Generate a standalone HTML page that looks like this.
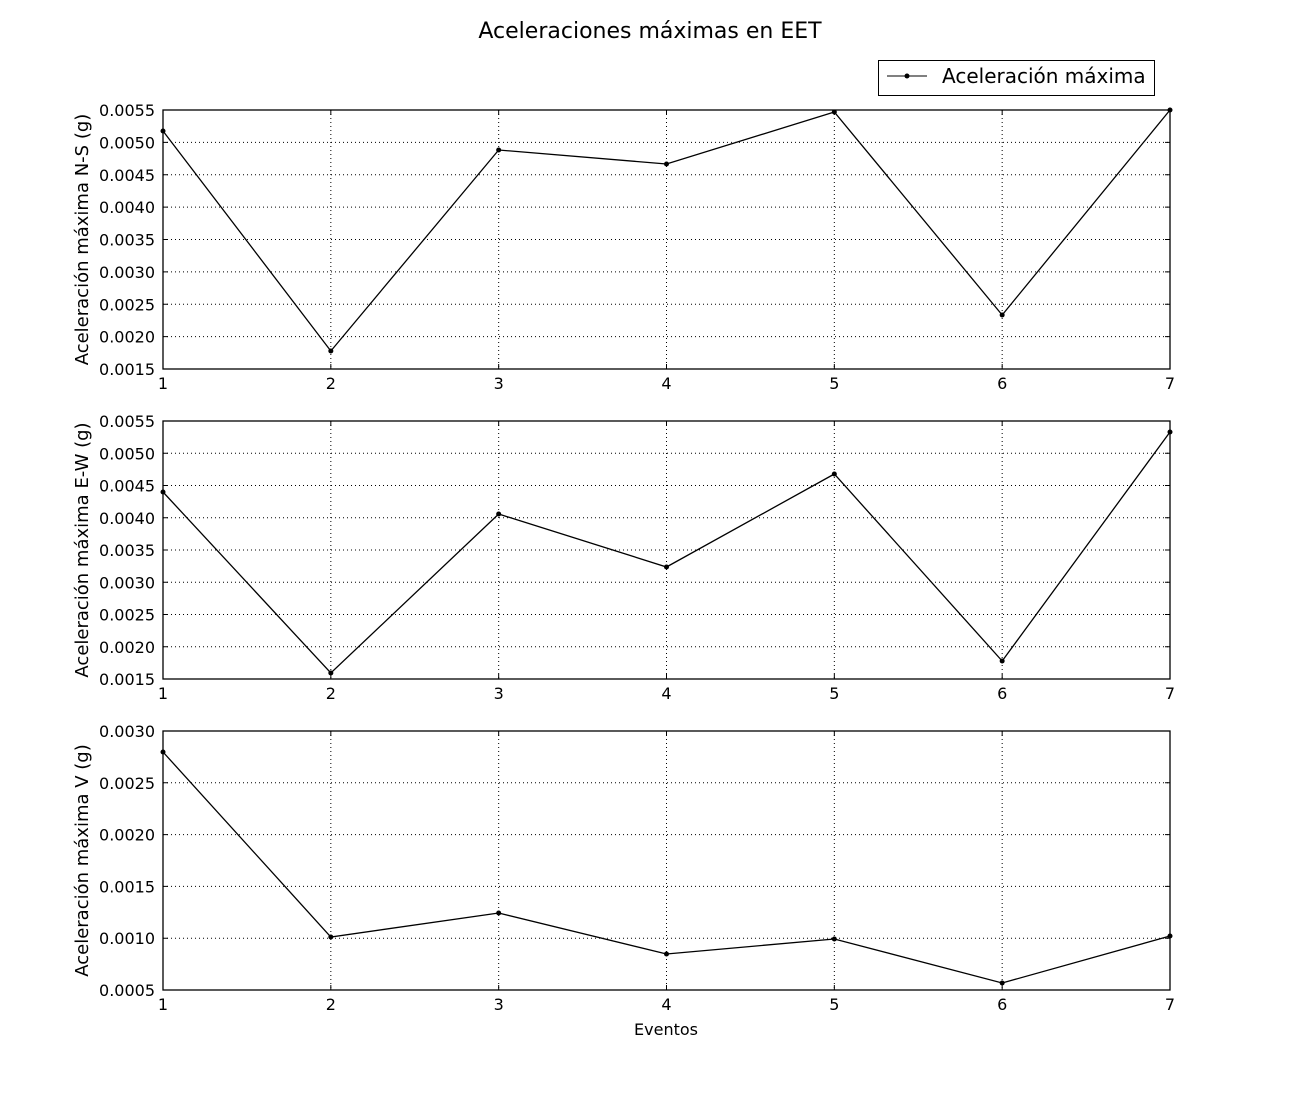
<!DOCTYPE html>
<html><head><meta charset="utf-8"><style>body{margin:0;background:#fff}svg{display:block}</style></head><body>
<svg width="1300" height="1100" xmlns="http://www.w3.org/2000/svg" font-family="DejaVu Sans, Liberation Sans, sans-serif">
<rect width="1300" height="1100" fill="#fff"/>
<text x="650" y="38" font-size="22" text-anchor="middle">Aceleraciones máximas en EET</text>
<rect x="878.5" y="60.5" width="276" height="35" fill="#fff" stroke="#000"/>
<line x1="887" y1="76" x2="927" y2="76" stroke="#000"/><circle cx="907" cy="76" r="2.5"/>
<text x="942" y="83" font-size="20">Aceleración máxima</text>

<g stroke="#000" stroke-dasharray="1,3" fill="none">
<path d="M330.83 110V369M498.67 110V369M666.5 110V369M834.33 110V369M1002.17 110V369
M163 142.375H1170M163 174.75H1170M163 207.125H1170M163 239.5H1170M163 271.875H1170M163 304.25H1170M163 336.625H1170"/>
<path d="M330.83 421V679M498.67 421V679M666.5 421V679M834.33 421V679M1002.17 421V679
M163 453.25H1170M163 485.5H1170M163 517.75H1170M163 550H1170M163 582.25H1170M163 614.5H1170M163 646.75H1170"/>
<path d="M330.83 731V990M498.67 731V990M666.5 731V990M834.33 731V990M1002.17 731V990
M163 782.8H1170M163 834.6H1170M163 886.4H1170M163 938.2H1170"/>
</g>

<g stroke="#000" fill="none">
<path d="M330.83 369v-5M498.67 369v-5M666.5 369v-5M834.33 369v-5M1002.17 369v-5M330.83 110v5M498.67 110v5M666.5 110v5M834.33 110v5M1002.17 110v5
M163 142.375h5M163 174.75h5M163 207.125h5M163 239.5h5M163 271.875h5M163 304.25h5M163 336.625h5
M1170 142.375h-5M1170 174.75h-5M1170 207.125h-5M1170 239.5h-5M1170 271.875h-5M1170 304.25h-5M1170 336.625h-5"/>
<path d="M330.83 679v-5M498.67 679v-5M666.5 679v-5M834.33 679v-5M1002.17 679v-5M330.83 421v5M498.67 421v5M666.5 421v5M834.33 421v5M1002.17 421v5
M163 453.25h5M163 485.5h5M163 517.75h5M163 550h5M163 582.25h5M163 614.5h5M163 646.75h5
M1170 453.25h-5M1170 485.5h-5M1170 517.75h-5M1170 550h-5M1170 582.25h-5M1170 614.5h-5M1170 646.75h-5"/>
<path d="M330.83 990v-5M498.67 990v-5M666.5 990v-5M834.33 990v-5M1002.17 990v-5M330.83 731v5M498.67 731v5M666.5 731v5M834.33 731v5M1002.17 731v5
M163 782.8h5M163 834.6h5M163 886.4h5M163 938.2h5
M1170 782.8h-5M1170 834.6h-5M1170 886.4h-5M1170 938.2h-5"/>
</g>

<g stroke="#000" stroke-width="1.3" fill="none">
<polyline points="163,131 330.83,351 498.67,150 666.5,164 834.33,112 1002.17,315 1170,110"/>
<polyline points="163,492 330.83,673 498.67,514 666.5,567 834.33,474 1002.17,661 1170,432"/>
<polyline points="163,752 330.83,937 498.67,913 666.5,954 834.33,939 1002.17,983 1170,936"/>
</g>
<g fill="#000">
<circle cx="163" cy="131" r="2.5"/><circle cx="330.83" cy="351" r="2.5"/><circle cx="498.67" cy="150" r="2.5"/><circle cx="666.5" cy="164" r="2.5"/><circle cx="834.33" cy="112" r="2.5"/><circle cx="1002.17" cy="315" r="2.5"/><circle cx="1170" cy="110" r="2.5"/>
<circle cx="163" cy="492" r="2.5"/><circle cx="330.83" cy="673" r="2.5"/><circle cx="498.67" cy="514" r="2.5"/><circle cx="666.5" cy="567" r="2.5"/><circle cx="834.33" cy="474" r="2.5"/><circle cx="1002.17" cy="661" r="2.5"/><circle cx="1170" cy="432" r="2.5"/>
<circle cx="163" cy="752" r="2.5"/><circle cx="330.83" cy="937" r="2.5"/><circle cx="498.67" cy="913" r="2.5"/><circle cx="666.5" cy="954" r="2.5"/><circle cx="834.33" cy="939" r="2.5"/><circle cx="1002.17" cy="983" r="2.5"/><circle cx="1170" cy="936" r="2.5"/>
</g>

<g stroke="#000" stroke-width="1.3" fill="none">
<rect x="163" y="110" width="1007" height="259"/>
<rect x="163" y="421" width="1007" height="258"/>
<rect x="163" y="731" width="1007" height="259"/>
</g>

<g font-size="16" text-anchor="middle">
<text x="163" y="389">1</text><text x="330.83" y="389">2</text><text x="498.67" y="389">3</text><text x="666.5" y="389">4</text><text x="834.33" y="389">5</text><text x="1002.17" y="389">6</text><text x="1170" y="389">7</text>
<text x="163" y="699">1</text><text x="330.83" y="699">2</text><text x="498.67" y="699">3</text><text x="666.5" y="699">4</text><text x="834.33" y="699">5</text><text x="1002.17" y="699">6</text><text x="1170" y="699">7</text>
<text x="163" y="1010">1</text><text x="330.83" y="1010">2</text><text x="498.67" y="1010">3</text><text x="666.5" y="1010">4</text><text x="834.33" y="1010">5</text><text x="1002.17" y="1010">6</text><text x="1170" y="1010">7</text>
<text x="666" y="1035">Eventos</text>
</g>

<g font-size="16" text-anchor="end">
<text x="155" y="116">0.0055</text><text x="155" y="148.4">0.0050</text><text x="155" y="180.8">0.0045</text><text x="155" y="213.1">0.0040</text><text x="155" y="245.5">0.0035</text><text x="155" y="277.9">0.0030</text><text x="155" y="310.3">0.0025</text><text x="155" y="342.6">0.0020</text><text x="155" y="375">0.0015</text>
<text x="155" y="427">0.0055</text><text x="155" y="459.3">0.0050</text><text x="155" y="491.5">0.0045</text><text x="155" y="523.8">0.0040</text><text x="155" y="556">0.0035</text><text x="155" y="588.3">0.0030</text><text x="155" y="620.5">0.0025</text><text x="155" y="652.8">0.0020</text><text x="155" y="685">0.0015</text>
<text x="155" y="737">0.0030</text><text x="155" y="788.8">0.0025</text><text x="155" y="840.6">0.0020</text><text x="155" y="892.4">0.0015</text><text x="155" y="944.2">0.0010</text><text x="155" y="996">0.0005</text>
</g>

<g font-size="18" text-anchor="middle">
<text transform="translate(88 239.5) rotate(-90)">Aceleración máxima N-S (g)</text>
<text transform="translate(88 550) rotate(-90)">Aceleración máxima E-W (g)</text>
<text transform="translate(88 860.5) rotate(-90)">Aceleración máxima V (g)</text>
</g>
</svg>
</body></html>
